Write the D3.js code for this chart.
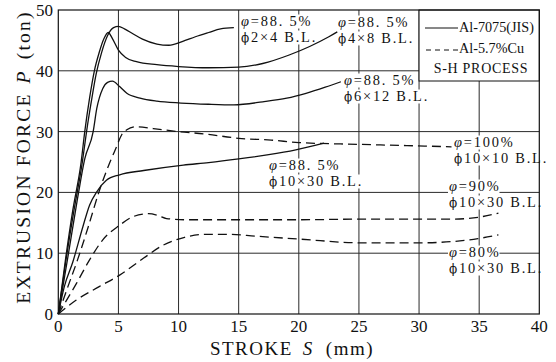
<!DOCTYPE html>
<html>
<head>
<meta charset="utf-8">
<script src="https://cdn.jsdelivr.net/npm/d3@7"></script>
<style>
  body { margin: 0; background: #fff; }
  svg { display: block; }
  text { font-family: "Liberation Serif", "DejaVu Serif", serif; fill: #111; }
  .dia { font-family: "DejaVu Serif", serif; }
</style>
</head>
<body>
<svg id="chart" width="556" height="362"></svg>
<script>
// Axis ticks
const xTicks = [0, 5, 10, 15, 20, 25, 30, 35, 40];
const yTicks = [0, 10, 20, 30, 40, 50];

// Al-7075 (JIS), φ = 88.5 %, billet φ2×4
const stroke2x4 = [0, 0.65, 1.3, 2.0, 2.35, 2.75, 3.15, 3.6, 4.1, 4.6, 5.0, 5.5, 6.2, 7.0, 8.2, 9.2, 10.3, 11.4, 12.5, 13.5, 14.6];
const force2x4  = [0, 9, 17, 25, 30, 35, 39.5, 43, 45.8, 47.1, 47.3, 46.9, 46.1, 45.2, 44.4, 44.2, 44.8, 45.6, 46.3, 46.9, 47.1];

// Al-7075 (JIS), φ = 88.5 %, billet φ4×8
const stroke4x8 = [0, 0.6, 1.2, 1.9, 2.2, 2.6, 3.0, 3.4, 3.8, 4.15, 4.5, 5.0, 5.6, 6.5, 8.2, 10, 12.5, 15, 17, 19.2, 20.9, 22.5, 23.2];
const force4x8  = [0, 9, 17, 25, 30, 35.5, 40, 43, 45.3, 46.3, 45.3, 43.4, 42.2, 41.5, 41, 40.7, 40.5, 40.6, 41.2, 42.6, 44, 45.6, 46.4];

// Al-7075 (JIS), φ = 88.5 %, billet φ6×12
const stroke6x12 = [0, 0.85, 1.6, 2.2, 2.9, 3.2, 3.7, 4.1, 4.5, 5.1, 5.7, 6.8, 8.2, 10.2, 12.5, 14.6, 17, 19, 20.6, 22.2, 23.5];
const force6x12  = [0, 10, 19, 25.5, 30, 33.8, 37.1, 38.1, 38.3, 37.4, 36.3, 35.5, 35, 34.7, 34.5, 34.4, 34.9, 35.5, 36.3, 37.3, 38.2];

// Al-7075 (JIS), φ = 88.5 %, billet φ10×30
const stroke10x30 = [0, 0.5, 1.2, 2.05, 2.6, 3.2, 4.0, 5.1, 7.1, 10.4, 12.5, 15, 17.5, 19.75, 22.1];
const force10x30  = [0, 4.5, 8.5, 14.4, 17.9, 20.1, 22, 22.9, 23.6, 24.5, 24.9, 25.5, 26.2, 27, 28.1];

// Al-5.7%Cu, φ = 100 %, billet φ10×10
const strokeCu100 = [0, 0.8, 1.6, 2.5, 3.4, 4.3, 4.8, 5.25, 5.7, 6.5, 7.9, 10, 12.25, 15, 17.7, 20, 25, 29, 32.7];
const forceCu100  = [0, 4.5, 8.9, 14.4, 20.2, 25, 27.3, 29.4, 30.3, 30.8, 30.5, 30, 29.6, 28.9, 28.6, 28.2, 27.9, 27.7, 27.5];

// Al-5.7%Cu, φ = 90 %, billet φ10×30
const strokeCu90 = [0, 1.5, 2.6, 3.7, 5.1, 6.2, 7.5, 8.3, 9.0, 10.7, 13, 16, 20, 25, 30, 32.7, 35.2, 36.6];
const forceCu90  = [0, 5, 8.9, 12.2, 14.6, 16, 16.5, 16.2, 15.7, 15.5, 15.5, 15.5, 15.5, 15.6, 15.6, 15.6, 16, 16.6];

// Al-5.7%Cu, φ = 80 %, billet φ10×30
const strokeCu80 = [0, 1.5, 3.4, 5.1, 7.1, 8.7, 10.5, 12.25, 14.2, 16.4, 20.2, 25.2, 29.9, 32.7, 34.9, 36.6];
const forceCu80  = [0, 2.3, 4.5, 6.4, 9.2, 11.3, 12.6, 13.1, 13.1, 12.8, 12.3, 11.7, 11.7, 11.9, 12.4, 13];

// Curve annotations: reduction line and billet line
const curveLabels = [
  { red: "=88. 5%", billet: "2×4 B.L." },
  { red: "=88. 5%", billet: "4×8 B.L." },
  { red: "=88. 5%", billet: "6×12 B.L." },
  { red: "=100%",   billet: "10×10 B.L." },
  { red: "=88. 5%", billet: "10×30 B.L." },
  { red: "=90%",    billet: "10×30 B.L." },
  { red: "=80%",    billet: "10×30 B.L." }
];
const labelAnchors = [[241, 25.5], [338, 26.5], [344, 84.5], [454, 146.5], [269, 169.5], [449, 190.5], [449, 256.5]];

const legendItems = ["Al-7075(JIS)", "Al-5.7%Cu"];
const legendNote = "S-H PROCESS";

const series = [
  { s: stroke2x4, p: force2x4, dashed: false },
  { s: stroke4x8, p: force4x8, dashed: false },
  { s: stroke6x12, p: force6x12, dashed: false },
  { s: stroke10x30, p: force10x30, dashed: false },
  { s: strokeCu100, p: forceCu100, dashed: true },
  { s: strokeCu90, p: forceCu90, dashed: true },
  { s: strokeCu80, p: forceCu80, dashed: true }
];

const svg = d3.select("#chart");
const plotL = 58.3, plotR = 539.3, plotT = 10, plotB = 314;
const x = d3.scaleLinear().domain([0, 40]).range([plotL, plotR]);
const y = d3.scaleLinear().domain([0, 50]).range([plotB, plotT]);

// grid
const grid = svg.append("g").attr("stroke", "#2a2a2a").attr("stroke-width", 1);
grid.selectAll("line.v").data(xTicks.slice(1, -1)).join("line").attr("class", "v")
  .attr("x1", d => x(d)).attr("x2", d => x(d)).attr("y1", plotT).attr("y2", plotB);
grid.selectAll("line.h").data(yTicks.slice(1, -1)).join("line").attr("class", "h")
  .attr("x1", plotL).attr("x2", plotR).attr("y1", d => y(d)).attr("y2", d => y(d));

// tick labels
svg.append("g").selectAll("text").data(yTicks).join("text")
  .attr("x", 53).attr("y", d => y(d)).attr("dy", "0.35em")
  .attr("text-anchor", "end").attr("font-size", 17).text(d => d);
svg.append("g").selectAll("text").data(xTicks).join("text")
  .attr("x", d => x(d)).attr("y", 332)
  .attr("text-anchor", "middle").attr("font-size", 17).text(d => d);

// legend box
const lg = svg.append("g");
lg.append("rect").attr("x", x(30)).attr("y", plotT).attr("width", plotR - x(30)).attr("height", 71)
  .attr("fill", "#fff").attr("stroke", "#111").attr("stroke-width", 1);
lg.append("line").attr("x1", 425).attr("x2", 458).attr("y1", 28).attr("y2", 28)
  .attr("stroke", "#111").attr("stroke-width", 1);
lg.append("line").attr("x1", 426).attr("x2", 458).attr("y1", 50).attr("y2", 50)
  .attr("stroke", "#111").attr("stroke-width", 1).attr("stroke-dasharray", "5,4");
lg.selectAll("text.item").data(legendItems).join("text").attr("class", "item")
  .attr("x", 459).attr("y", (d, i) => 32 + i * 21).attr("font-size", 14.2).text(d => d);
lg.append("text").attr("x", 481).attr("y", 73).attr("text-anchor", "middle")
  .attr("font-size", 14).attr("letter-spacing", 0.7).text(legendNote);

// annotations: white backing under each text line, then curves, then text
const bgLayer = svg.append("g");
const curveLayer = svg.append("g");
const textLayer = svg.append("g");
const lineGap = 16;

curveLabels.forEach((lab, i) => {
  const [ax, ay] = labelAnchors[i];
  [[ "φ", lab.red, ay, true ], [ "ϕ", lab.billet, ay + lineGap, false ]].forEach(([sym, rest, base, first]) => {
    const t = textLayer.append("text").attr("x", ax).attr("y", base)
      .attr("font-size", 14.4).attr("letter-spacing", 1.8);
    const s = t.append("tspan").text(sym);
    if (first) s.attr("font-style", "italic");
    else s.attr("class", "dia").attr("font-size", 12);
    t.append("tspan").text(rest);
    const w = t.node().getComputedTextLength();
    bgLayer.append("rect").attr("x", ax - 1).attr("y", base - 11)
      .attr("width", w).attr("height", 14).attr("fill", "#fff");
  });
});

const line = d3.line().x(d => x(d[0])).y(d => y(d[1])).curve(d3.curveMonotoneX);
curveLayer.selectAll("path").data(series).join("path")
  .attr("d", d => line(d.s.map((v, k) => [v, d.p[k]])))
  .attr("fill", "none").attr("stroke", "#111").attr("stroke-width", 1.3)
  .attr("stroke-dasharray", d => d.dashed ? "9,5" : null);

// frame
svg.append("rect").attr("x", plotL).attr("y", plotT).attr("width", plotR - plotL).attr("height", plotB - plotT)
  .attr("fill", "none").attr("stroke", "#111").attr("stroke-width", 1.2);

// axis titles
const xt = svg.append("text").attr("x", 292).attr("y", 355).attr("text-anchor", "middle")
  .attr("font-size", 19).attr("letter-spacing", 1.5);
xt.append("tspan").text("STROKE");
xt.append("tspan").attr("dx", 10).attr("font-style", "italic").text("S");
xt.append("tspan").attr("dx", 12).text("(mm)");

const yt = svg.append("text").attr("transform", "translate(30,157) rotate(-90)")
  .attr("text-anchor", "middle").attr("font-size", 19.5).attr("letter-spacing", 2.2);
yt.append("tspan").text("EXTRUSION FORCE");
yt.append("tspan").attr("dx", 9).attr("font-style", "italic").text("P");
yt.append("tspan").attr("dx", 10).text("(ton)");
</script>
</body>
</html>
